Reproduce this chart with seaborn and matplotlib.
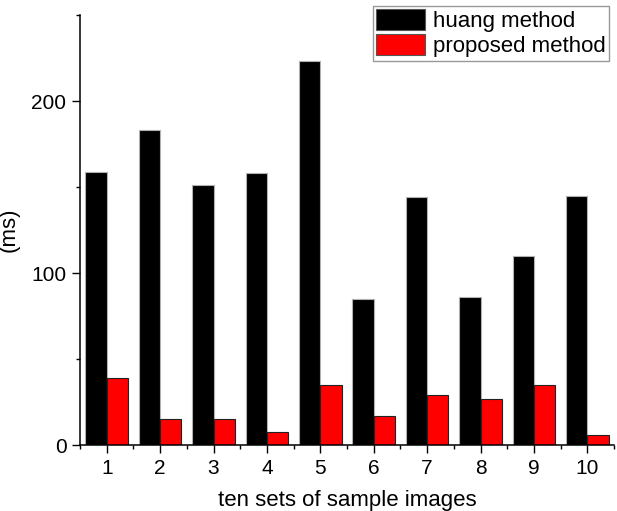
import matplotlib
matplotlib.use("Agg")
import matplotlib.pyplot as plt
import seaborn as sns
import pandas as pd
from matplotlib.ticker import MultipleLocator

categories = ["1", "2", "3", "4", "5", "6", "7", "8", "9", "10"]
huang = [159, 183, 151, 158, 223, 85, 144, 86, 110, 145]
proposed = [39, 15, 15, 8, 35, 17, 29, 27, 35, 6]
series_names = ["huang method", "proposed method"]

df = pd.DataFrame({
    "set": categories * 2,
    "time": huang + proposed,
    "method": [series_names[0]] * len(categories) + [series_names[1]] * len(categories),
})

sns.set_theme(style="ticks")
plt.rcParams["font.family"] = ["Liberation Sans", "DejaVu Sans"]
plt.rcParams["text.color"] = "black"
plt.rcParams["axes.labelcolor"] = "black"
plt.rcParams["xtick.color"] = "black"
plt.rcParams["ytick.color"] = "black"

fig = plt.figure(figsize=(6.17, 5.11), dpi=100)
ax = fig.add_axes([0.1297, 0.1286, 0.8655, 0.842])

sns.barplot(data=df, x="set", y="time", hue="method", order=categories,
            hue_order=series_names, palette=["#000000", "#ff0000"],
            width=0.8, saturation=1, ax=ax, linewidth=0.8, edgecolor="#555555")

for i, cont in enumerate(ax.containers):
    for p in cont:
        p.set_edgecolor("#b0b0b0" if i == 0 else "#222222")

ax.set_xlim(-0.5, 9.5)
ax.set_ylim(0, 250)
ax.set_yticks([0, 100, 200])
ax.yaxis.set_minor_locator(MultipleLocator(50))
ax.set_xticks(range(10))
ax.set_xticklabels(categories)
ax.set_xticks([i + 0.5 for i in range(-1, 10)], minor=True)

for s in ["top", "right"]:
    ax.spines[s].set_visible(False)
for s in ["left", "bottom"]:
    ax.spines[s].set_linewidth(1.1)
    ax.spines[s].set_color("black")

ax.tick_params(which="major", direction="out", length=5.8, width=1.0, labelsize=15,
               color="black", labelcolor="black", pad=4)
ax.tick_params(which="minor", direction="out", length=3, width=1.0, color="black")

ax.set_xlabel("ten sets of sample images", fontsize=16, labelpad=9, color="black")
ax.set_ylabel("(ms)", fontsize=16, color="black")
ax.yaxis.set_label_coords(-0.113, 0.5)

leg = ax.legend(loc="upper right", bbox_to_anchor=(0.9906, 1.021), fontsize=16,
                frameon=True, fancybox=False, edgecolor="#808080",
                handlelength=2.2, handleheight=1.05, handletextpad=0.35,
                borderpad=0.15, labelspacing=0.1, borderaxespad=0.0)
leg.get_frame().set_linewidth(1.0)
for t in leg.get_texts():
    t.set_color("black")

fig.savefig("out.png", dpi=100)
